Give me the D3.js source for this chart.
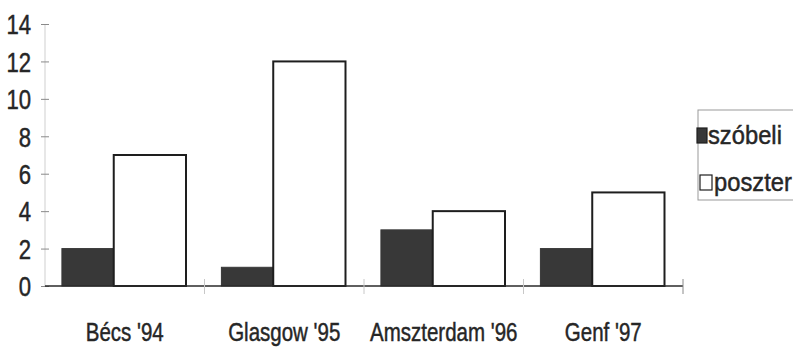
<!DOCTYPE html>
<html>
<head>
<meta charset="utf-8">
<script src="https://cdn.jsdelivr.net/npm/d3@7"></script>
<style>
  html, body { margin: 0; padding: 0; background: #fff; }
  svg { display: block; }
  .lbl, .leg { font-family: "Liberation Sans", Arial, sans-serif; fill: #262626; stroke: #262626; stroke-width: 0.45px; }
</style>
</head>
<body>
<script>
// Conference contributions per meeting
const categories = ["Bécs '94", "Glasgow '95", "Amszterdam '96", "Genf '97"];
const seriesNames = ["szóbeli", "poszter"];
const szobeli = [2, 1, 3, 2];
const poszter = [7, 12, 4, 5];
const yTicks = [0, 2, 4, 6, 8, 10, 12, 14];

const W = 793, H = 348;
const plot = { left: 45, right: 683, top: 24, bottom: 286 };
const NARROW = 0.82;   // horizontal squeeze for a condensed label face

// each series occupies a slice of its category band (fractions of the band)
const sliceStart = [0.106, 0.431];
const sliceEnd = [0.431, 0.884];
const fills = ["#383838", "#ffffff"];

const svg = d3.select("body").append("svg").attr("width", W).attr("height", H);

const x = d3.scaleBand().domain(categories).range([plot.left, plot.right]).padding(0);
const y = d3.scaleLinear().domain([0, 14]).range([plot.bottom, plot.top]);
const inner = d3.scaleLinear().domain([0, 1]).range([0, x.bandwidth()]);

// y axis: faint line with small ticks
svg.append("line")
  .attr("x1", plot.left).attr("x2", plot.left)
  .attr("y1", y(14)).attr("y2", y(0))
  .attr("stroke", "#cfcfcf").attr("stroke-width", 1);

const yAxis = d3.axisLeft(y).tickValues(yTicks).tickSize(4).tickFormat(d3.format("d"));
const gy = svg.append("g").attr("transform", `translate(${plot.left},0)`).call(yAxis);
gy.select(".domain").remove();
gy.selectAll(".tick line").attr("x1", -4).attr("x2", 4).attr("stroke", "#8a8a8a");
gy.selectAll(".tick text")
  .attr("class", "lbl")
  .attr("font-size", 27)
  .attr("fill", "#262626")
  .attr("x", -14 / NARROW)
  .attr("dy", "0.36em")
  .attr("transform", `scale(${NARROW},1)`);

// bars
const rows = categories.map((c, i) => ({ c, vals: [szobeli[i], poszter[i]] }));
const groups = svg.append("g").selectAll("g").data(rows).join("g")
  .attr("transform", d => `translate(${x(d.c)},0)`);

groups.selectAll("rect").data(d => d.vals.map((v, s) => ({ v, s }))).join("rect")
  .attr("x", d => inner(sliceStart[d.s]))
  .attr("width", d => inner(sliceEnd[d.s]) - inner(sliceStart[d.s]))
  .attr("y", d => y(d.v))
  .attr("height", d => y(0) - y(d.v))
  .attr("fill", d => fills[d.s])
  .attr("stroke", d => d.s === 0 ? "#383838" : "#1e1e1e")
  .attr("stroke-width", d => d.s === 0 ? 1 : 2);

// x axis baseline with ticks at category boundaries
svg.append("line")
  .attr("x1", plot.left).attr("x2", plot.right)
  .attr("y1", y(0)).attr("y2", y(0))
  .attr("stroke", "#2a2a2a").attr("stroke-width", 1.5);

const bounds = categories.slice(1).map(c => x(c)).concat([plot.right]);
svg.append("g").selectAll("line").data(bounds).join("line")
  .attr("x1", d => d).attr("x2", d => d)
  .attr("y1", y(0) - 7).attr("y2", y(0) + 8)
  .attr("stroke", (d, i) => i === bounds.length - 1 ? "#8a8a8a" : "#c8c8c8")
  .attr("stroke-width", 1);

svg.append("g").selectAll("g").data(categories).join("g")
  .attr("transform", d => `translate(${x(d) + x.bandwidth() / 2},341) scale(${NARROW},1)`)
  .append("text")
  .attr("class", "lbl")
  .attr("text-anchor", "middle")
  .attr("font-size", 25)
  .text(d => d);

// legend
const leg = svg.append("g");
leg.append("rect")
  .attr("x", 698).attr("y", 110).attr("width", 120).attr("height", 90)
  .attr("fill", "none").attr("stroke", "#999").attr("stroke-width", 1);

const legItems = [
  { name: seriesNames[0], base: 144, sx: 697, sw: 10, tx: 708, fill: fills[0] },
  { name: seriesNames[1], base: 191, sx: 700, sw: 12, tx: 714, fill: fills[1] }
];
legItems.forEach(it => {
  leg.append("rect")
    .attr("x", it.sx).attr("y", it.base - 16).attr("width", it.sw).attr("height", 15)
    .attr("fill", it.fill).attr("stroke", "#1e1e1e").attr("stroke-width", 1.2);
  leg.append("g")
    .attr("transform", `translate(${it.tx},${it.base}) scale(0.95,1)`)
    .append("text")
    .attr("class", "leg")
    .attr("font-size", 25)
    .text(it.name);
});
</script>
</body>
</html>
